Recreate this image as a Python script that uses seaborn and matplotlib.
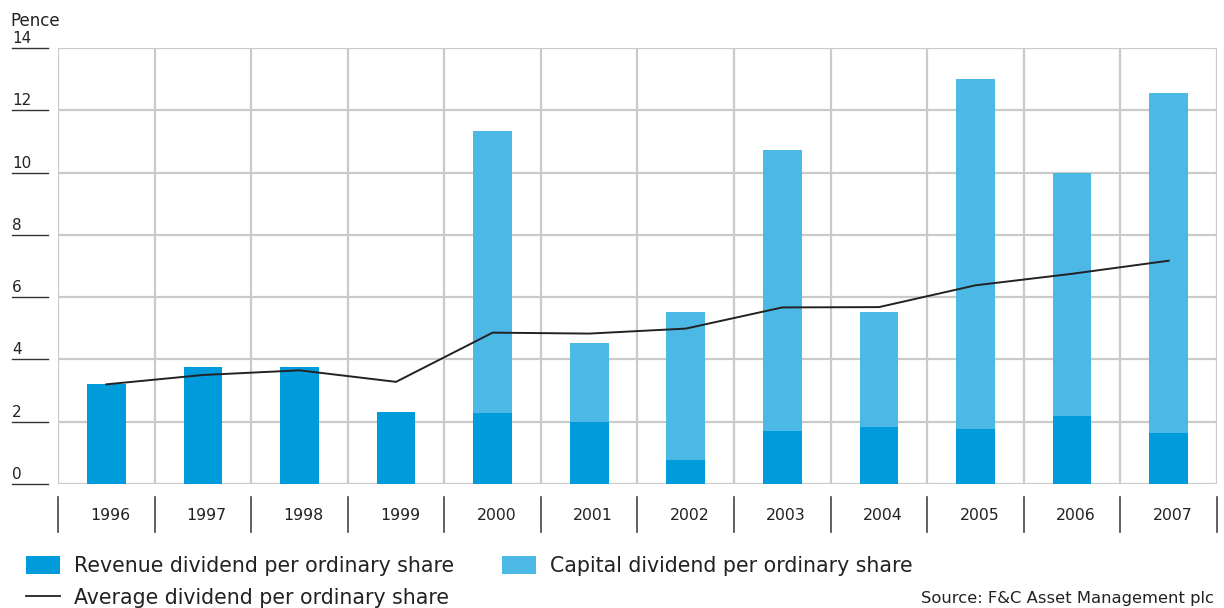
import numpy as np
import pandas as pd
import matplotlib
matplotlib.use("Agg")
import matplotlib.pyplot as plt
import matplotlib.transforms as mtransforms
from matplotlib.patches import Patch
from matplotlib.lines import Line2D
import seaborn as sns

years = ["1996", "1997", "1998", "1999", "2000", "2001", "2002", "2003", "2004", "2005", "2006", "2007"]
revenue = [3.22, 3.76, 3.76, 2.30, 2.28, 1.99, 0.77, 1.70, 1.83, 1.77, 2.19, 1.64]
total = [3.22, 3.76, 3.76, 2.30, 11.32, 4.53, 5.53, 10.74, 5.53, 13.02, 10.00, 12.54]
average = [3.20, 3.50, 3.65, 3.28, 4.86, 4.83, 4.99, 5.67, 5.68, 6.38, 6.75, 7.17]
yticks = [0, 2, 4, 6, 8, 10, 12, 14]

plt.rcParams['font.family'] = ['DejaVu Sans']

REV_C = "#009BDB"
CAP_C = "#4BB8E6"
GRID_C = "#cacaca"
TXT_C = "#222222"

df = pd.DataFrame({"year": years, "revenue": revenue, "total": total, "average": average})

fig = plt.figure(figsize=(12.24, 6.08), dpi=100)
ax = fig.add_axes([58 / 1224, 1 - 484 / 608, (1217 - 58) / 1224, (484 - 48) / 608])

sns.barplot(data=df, x="year", y="total", order=years, color=CAP_C, width=0.4,
            saturation=1, ax=ax, zorder=3)
sns.barplot(data=df, x="year", y="revenue", order=years, color=REV_C, width=0.4,
            saturation=1, ax=ax, zorder=4)
sns.lineplot(x=np.arange(len(years)), y=df["average"], color=TXT_C, linewidth=1.4,
             ax=ax, zorder=5)

ax.set_xlim(-0.5, len(years) - 0.5)
ax.set_ylim(0, 14)
for s in ax.spines.values():
    s.set_visible(False)

# grid
ax.set_yticks(yticks)
ax.set_xticks(np.arange(-0.5, len(years), 1.0))
ax.grid(True, color=GRID_C, linewidth=1.6, zorder=0)
ax.set_axisbelow(True)
ax.tick_params(length=0, labelleft=False, labelbottom=False)
ax.set_xlabel("")
ax.set_ylabel("")

# y tick labels with underline
ytrans = mtransforms.blended_transform_factory(fig.transFigure, ax.transData)
ytext = ytrans + mtransforms.ScaledTranslation(0, 2 / 100, fig.dpi_scale_trans)
for v in yticks:
    fig.add_artist(Line2D([12 / 1224, 48 / 1224], [v, v], transform=ytrans,
                          color="#333333", linewidth=1.0))
    fig.text(12 / 1224, v, str(v), transform=ytext, ha="left", va="bottom",
             fontsize=11, color=TXT_C)
fig.text(10 / 1224, 1 - 21 / 608, "Pence", ha="left", va="center", fontsize=12, color=TXT_C)

# x category labels with separators
xtrans = mtransforms.blended_transform_factory(ax.transData, ax.transAxes)
ah = 484 - 48
for i in range(len(years) + 1):
    ax.plot([i - 0.5, i - 0.5], [-(497 - 484) / ah, -(532 - 484) / ah], transform=xtrans,
            color="#444444", linewidth=1.2, clip_on=False)
for i, y in enumerate(years):
    ax.text(i + 0.04, -(516 - 484) / ah, y, transform=xtrans, ha="center", va="center",
            fontsize=11.3, color=TXT_C)

# legend
handles = [Patch(facecolor=REV_C, edgecolor="none"),
           Line2D([], [], color=TXT_C, linewidth=1.3),
           Patch(facecolor=CAP_C, edgecolor="none")]
labels = ["Revenue dividend per ordinary share", "Average dividend per ordinary share",
          "Capital dividend per ordinary share"]
leg = fig.legend(handles, labels, ncol=2, loc="upper left",
                 bbox_to_anchor=(26 / 1224, 1 - 556 / 608), frameon=False,
                 fontsize=14.8, handlelength=1.65, handleheight=0.97, handletextpad=0.68,
                 columnspacing=2.33, labelspacing=0.6, borderpad=0, borderaxespad=0)
for t in leg.get_texts():
    t.set_color(TXT_C)

fig.text(1214 / 1224, 1 - 599 / 608, "Source: F&C Asset Management plc", ha="right",
         va="center", fontsize=11.8, color=TXT_C)

fig.savefig("out.png", dpi=100)
